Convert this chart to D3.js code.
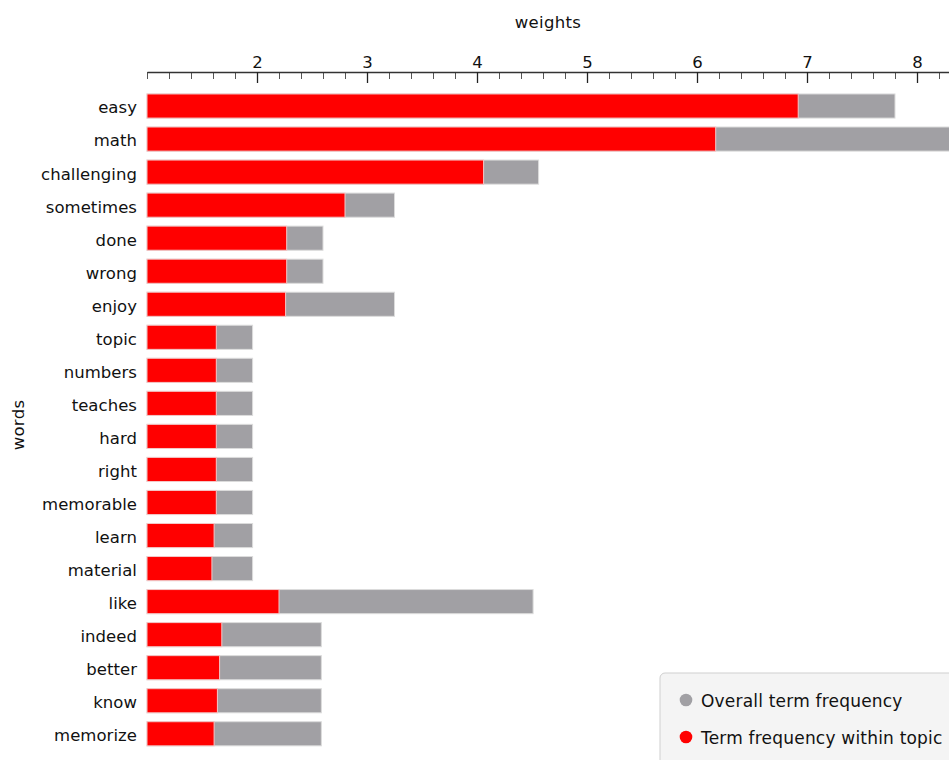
<!DOCTYPE html>
<html>
<head>
<meta charset="utf-8">
<script src="https://cdn.jsdelivr.net/npm/d3@7"></script>
<style>
  html, body { margin: 0; padding: 0; background: #fff; overflow: hidden; }
  svg { display: block; font-family: "DejaVu Sans", Verdana, sans-serif; }
</style>
</head>
<body>
<svg id="chart" width="949" height="760"></svg>
<script>
// ---- data ----
const words = ["easy","math","challenging","sometimes","done","wrong","enjoy","topic","numbers","teaches","hard","right","memorable","learn","material","like","indeed","better","know","memorize"];
const topicFreq = [6.92,6.17,4.06,2.80,2.27,2.27,2.26,1.63,1.63,1.63,1.63,1.63,1.63,1.61,1.59,2.20,1.68,1.66,1.64,1.61];
const overallFreq = [7.80,8.90,4.56,3.25,2.60,2.60,3.25,1.96,1.96,1.96,1.96,1.96,1.96,1.96,1.96,4.51,2.585,2.585,2.585,2.585];
const majorTicks = [2,3,4,5,6,7,8];
const minorTicks = [1,1.2,1.4,1.6,1.8,2.2,2.4,2.6,2.8,3.2,3.4,3.6,3.8,4.2,4.4,4.6,4.8,5.2,5.4,5.6,5.8,6.2,6.4,6.6,6.8,7.2,7.4,7.6,7.8,8.2];
const legendItems = [{label:"Overall term frequency", color:"#a1a0a4"},{label:"Term frequency within topic", color:"#ff0000"}];
const xTitle = "weights";
const yTitle = "words";

const svg = d3.select("#chart");
const x = d3.scaleLinear().domain([1, 8.3]).range([147, 950]);
const y = d3.scaleBand().domain(words).range([89.5, 750.3]).paddingInner(0.27).paddingOuter(0.135);
const axisY = 72;
const fs = 16.5, ls = "0.05px";

// bars
const rows = words.map((w,i)=>({w, t: topicFreq[i], o: overallFreq[i]}));
const g = svg.append("g");
g.selectAll("rect.overall").data(rows).join("rect")
  .attr("class","overall")
  .attr("x", x(1)).attr("y", d=>y(d.w))
  .attr("width", d=>x(d.o)-x(1)).attr("height", y.bandwidth())
  .attr("fill","#a1a0a4").attr("stroke","#dcdcdc").attr("stroke-width",1);
g.selectAll("rect.topic").data(rows).join("rect")
  .attr("class","topic")
  .attr("x", x(1)).attr("y", d=>y(d.w))
  .attr("width", d=>x(d.t)-x(1)).attr("height", y.bandwidth())
  .attr("fill","#ff0000").attr("stroke","#f4c8c8").attr("stroke-width",1);

// minor ticks
svg.append("g").attr("transform",`translate(0,${axisY})`)
  .call(d3.axisTop(x).tickValues(minorTicks).tickSize(-7).tickFormat(""))
  .call(a=>a.select(".domain").remove())
  .call(a=>a.selectAll("line").attr("stroke","#555"));
// major axis
svg.append("g").attr("transform",`translate(0,${axisY})`)
  .call(d3.axisTop(x).tickValues(majorTicks).tickSize(-11).tickSizeOuter(0).tickPadding(4).tickFormat(d3.format("d")))
  .call(a=>a.select(".domain").attr("stroke","#333").attr("stroke-width",1.5))
  .call(a=>a.selectAll("line").attr("stroke","#222").attr("stroke-width",1.3))
  .call(a=>a.selectAll("text").attr("font-size",fs).attr("fill","#111").attr("font-family","DejaVu Sans"));

// y axis labels
svg.append("g").attr("transform",`translate(${x(1)},0)`)
  .call(d3.axisLeft(y).tickSize(0).tickPadding(10))
  .call(a=>a.select(".domain").remove())
  .call(a=>a.selectAll("text").attr("font-size",fs).attr("letter-spacing",ls).attr("dy","0.45em")
    .attr("fill","#111").attr("font-family","DejaVu Sans"));

// axis titles
svg.append("text").attr("x",548).attr("y",28).attr("text-anchor","middle")
  .attr("font-size",fs).attr("letter-spacing","0.3px").attr("fill","#111").text(xTitle);
svg.append("text").attr("transform","translate(24,425) rotate(-90)").attr("text-anchor","middle")
  .attr("font-size",fs).attr("letter-spacing","0.3px").attr("fill","#111").text(yTitle);

// legend
const lg = svg.append("g");
lg.append("rect").attr("x",660).attr("y",673).attr("width",320).attr("height",110).attr("rx",5)
  .attr("fill","#f4f4f4").attr("stroke","#cfcfcf");
lg.selectAll("g.item").data(legendItems).join("g").attr("class","item")
  .attr("transform",(d,i)=>`translate(686,${700 + i*37})`)
  .each(function(d){
    const s = d3.select(this);
    s.append("circle").attr("r",6.3).attr("cx",0).attr("cy",0).attr("fill",d.color);
    s.append("text").attr("x",15).attr("y",0).attr("dy","0.4em").attr("font-size",17)
      .attr("letter-spacing","0.2px").attr("fill","#111").text(d.label);
  });
</script>
</body>
</html>
